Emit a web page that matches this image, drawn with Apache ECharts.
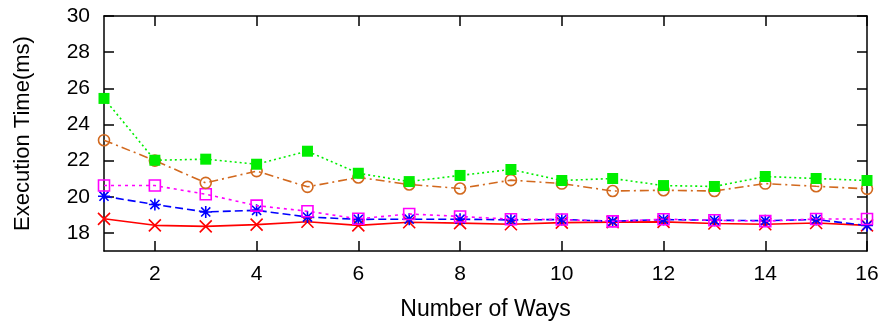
<!DOCTYPE html>
<html>
<head>
<meta charset="utf-8">
<script src="https://cdn.jsdelivr.net/npm/echarts@6/dist/echarts.min.js"></script>
<style>
html,body{margin:0;padding:0;background:#fff;}
#chart{width:887px;height:326px;}
</style>
</head>
<body>
<div id="chart"></div>
<script>
const ways = [1,2,3,4,5,6,7,8,9,10,11,12,13,14,15,16];
const xTicks = [2,4,6,8,10,12,14,16];
const yTicks = [18,20,22,24,26,28,30];
const redVals = [18.78,18.42,18.36,18.46,18.62,18.42,18.59,18.54,18.48,18.57,18.60,18.61,18.52,18.48,18.55,18.42];
const blueVals = [20.03,19.57,19.16,19.25,18.88,18.75,18.76,18.76,18.72,18.74,18.65,18.74,18.70,18.68,18.74,18.41];
const magentaVals = [20.62,20.62,20.14,19.51,19.20,18.78,19.05,18.91,18.76,18.74,18.64,18.76,18.70,18.65,18.77,18.77];
const orangeVals = [23.13,22.00,20.77,21.42,20.55,21.07,20.68,20.46,20.92,20.73,20.32,20.36,20.32,20.73,20.58,20.44];
const greenVals = [25.44,22.02,22.08,21.80,22.52,21.30,20.84,21.18,21.51,20.90,21.01,20.62,20.57,21.12,21.01,20.90];

const pairs = vals => ways.map((w,i)=>[w, vals[i]]);
const FONT = 'Liberation Sans, Arial, Helvetica, sans-serif';

const CROSS = 'path://M0,0L10,10M0,10L10,0';
const STAR = 'path://M0,5L10,5M5,0L5,10M1.2,1.2L8.8,8.8M1.2,8.8L8.8,1.2';
const OSQ = 'path://M0,0L10,0L10,10L0,10Z';

function mk(name, vals, color, dash, symbol, size, filled, z){
  return {
    name, type:'line', data: pairs(vals), z,
    symbol, symbolSize: size, showSymbol:true,
    lineStyle:{color, width:1.6, type: dash},
    itemStyle:{color: filled ? color : 'rgba(0,0,0,0)', borderColor: color, borderWidth: filled?0:1.6},
    emphasis:{disabled:true}, animation:false, silent:true
  };
}

const axisLineStyle = {show:true, lineStyle:{color:'#000', width:1.5}};
const chart = echarts.init(document.getElementById('chart'), null, {renderer:'canvas'});
chart.setOption({
  backgroundColor:'#fff',
  animation:false,
  grid:{left:104, right:20, top:16, bottom:75},
  xAxis:[{
    type:'value', min:1, max:16, position:'bottom',
    name:'Number of Ways', nameLocation:'middle', nameGap:47,
    nameTextStyle:{fontFamily:FONT, fontSize:23, color:'#000'},
    axisLine:axisLineStyle,
    axisTick:{show:true, inside:true, length:10, customValues:xTicks, lineStyle:{color:'#000', width:1.5}},
    axisLabel:{customValues:xTicks, fontFamily:FONT, fontSize:21, color:'#000', margin:13},
    splitLine:{show:false}
  },{
    type:'value', min:1, max:16, position:'top',
    axisLine:axisLineStyle,
    axisTick:{show:true, inside:true, length:10, customValues:xTicks, lineStyle:{color:'#000', width:1.5}},
    axisLabel:{show:false}, splitLine:{show:false}
  }],
  yAxis:[{
    type:'value', min:17, max:30, position:'left',
    name:'Execution Time(ms)', nameLocation:'middle', nameGap:70,
    nameTextStyle:{fontFamily:FONT, fontSize:22, color:'#000'},
    axisLine:axisLineStyle,
    axisTick:{show:true, inside:true, length:10, customValues:yTicks, lineStyle:{color:'#000', width:1.5}},
    axisLabel:{customValues:yTicks, fontFamily:FONT, fontSize:21, color:'#000', margin:14},
    splitLine:{show:false}
  },{
    type:'value', min:17, max:30, position:'right',
    axisLine:axisLineStyle,
    axisTick:{show:true, inside:true, length:10, customValues:yTicks, lineStyle:{color:'#000', width:1.5}},
    axisLabel:{show:false}, splitLine:{show:false}
  }],
  series:[
    mk('s1', redVals, '#ff0000', 'solid', CROSS, 12, false, 2),
    mk('s2', blueVals, '#0000ff', [8,4], STAR, 12, false, 3),
    mk('s3', magentaVals, '#ff00ff', [3,4], OSQ, 11, false, 4),
    mk('s4', orangeVals, '#d2691e', [9,4,2,4], 'circle', 11, false, 5),
    mk('s5', greenVals, '#00ee00', [2,3], 'rect', 11, true, 6)
  ]
});
</script>
</body>
</html>
